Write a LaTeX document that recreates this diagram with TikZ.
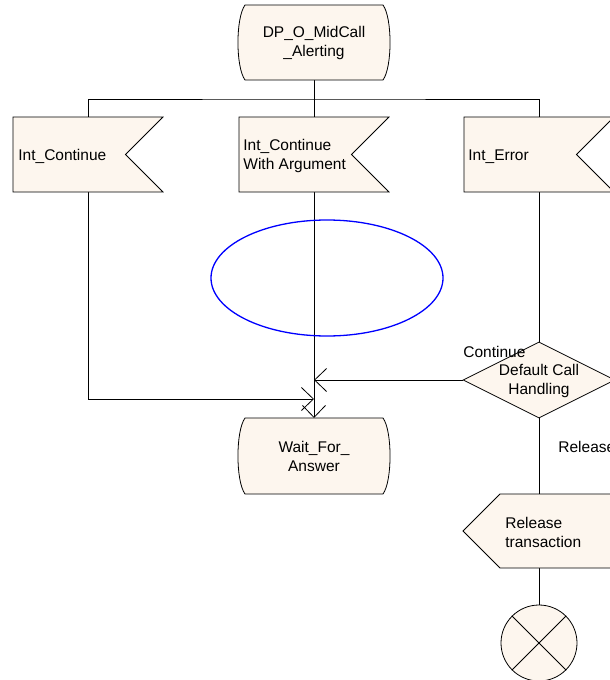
\documentclass[tikz,border=0pt]{standalone}
\usepackage{fontspec}
\setmainfont{Liberation Sans}
\usetikzlibrary{arrows.meta,shapes.geometric,calc}
\definecolor{symfill}{RGB}{253,246,238}
\begin{document}
\begin{tikzpicture}[x=1pt,y=-1pt,
  font=\fontsize{15.5}{19}\selectfont,
  line width=0.8pt,
  shapebox/.style={draw=none, inner sep=0pt, outer sep=0pt, minimum width=150pt, minimum height=75pt},
  sym/.style={draw=black, fill=symfill, line width=0.8pt},
  txt/.style={align=left, inner sep=0pt, anchor=west},
  ctxt/.style={align=center, inner sep=0pt},
  conn/.style={draw=black, line width=0.8pt},
  arr/.style={conn, -{Straight Barb[length=12pt,width=23pt]}},
  lbl/.style={inner sep=0pt, anchor=west}]
\useasboundingbox (0,0) rectangle (610,680);
\clip (0,0) rectangle (610,680);

% geometry nodes
\node[shapebox, minimum width=152pt, minimum height=75pt] (st1) at (314,42.5) {};
\node[shapebox] (in1) at (88,154.5) {};
\node[shapebox] (in2) at (314,154.5) {};
\node[shapebox] (in3) at (539,154.5) {};
\node[shapebox, minimum width=152pt, minimum height=76pt] (wait) at (314,456) {};
\node[shapebox, minimum width=152pt, minimum height=74pt] (rel) at (539,531) {};
\coordinate (bar) at (314,99);

% connectors
\draw[conn] (st1.south) -- (bar);
\draw[conn] (in1.north) |- (bar) -| (in3.north);
\draw[conn] (bar) -- (in2.north);
\coordinate (m1) at (314,399);
\draw[arr] (in1.south) |- (m1);
\draw[arr] (in2.south) -- (wait.north);
\node[diamond, sym, aspect=2, minimum width=152pt, minimum height=76pt, inner sep=0pt] (dch) at (539,380) {};
\coordinate (m2) at (in2.south |- dch.west);
\draw[arr] (dch.west) -- (m2);
\draw[conn] (in3.south) -- (dch.north);
\draw[conn] (dch.south) -- (rel.north);
\node[circle, sym, minimum size=76pt, inner sep=0pt] (stop) at (539,643) {};
\draw[conn] (rel.south) -- (stop.north);
\draw[conn] (stop.north east) -- (stop.south west);
\draw[conn] (stop.north west) -- (stop.south east);

% state symbols
\foreach \s in {st1,wait}{
  \path[sym] ($(\s.north west)+(7,0)$) -- ($(\s.north east)+(-7,0)$)
    .. controls ($(\s.north east)+(2.4,13)$) and ($(\s.south east)+(2.4,-13)$) .. ($(\s.south east)+(-7,0)$)
    -- ($(\s.south west)+(7,0)$)
    .. controls ($(\s.south west)+(-2.4,-13)$) and ($(\s.north west)+(-2.4,13)$) .. cycle;
}
% input symbols
\foreach \s in {in1,in2,in3}{
  \path[sym] (\s.north west) -- (\s.north east) -- ($(\s.east)+(-37.5,0)$) -- (\s.south east) -- (\s.south west) -- cycle;
}
% output symbol
\path[sym] ($(rel.north west)+(37,0)$) -- (rel.north east) -- (rel.south east) -- ($(rel.south west)+(37,0)$) -- (rel.west) -- cycle;

% texts
\node[ctxt] (tst1) at (314,43) {DP\_O\_MidCall\\\_Alerting};
\node[txt] (tin1) at ($(in1.west)+(5,2)$) {Int\_Continue};
\node[txt] (tin2) at ($(in2.west)+(4,1)$) {Int\_Continue\\With Argument};
\node[txt] (tin3) at ($(in3.west)+(4,2)$) {Int\_Error};
\node[ctxt] (twait) at (314,456) {Wait\_For\_\\Answer};
\node[ctxt] (tdch) at (539,381) {Default Call\\Handling};
\node[txt] (trel) at (505,532) {Release\\transaction};
\node[lbl] (lcont) at (463,352) {Continue};
\node[lbl] (lrel) at (558,447) {Release};

% ellipse
\draw[blue, line width=1.3pt] (327,278) ellipse [x radius=116, y radius=58];
\end{tikzpicture}
\end{document}
